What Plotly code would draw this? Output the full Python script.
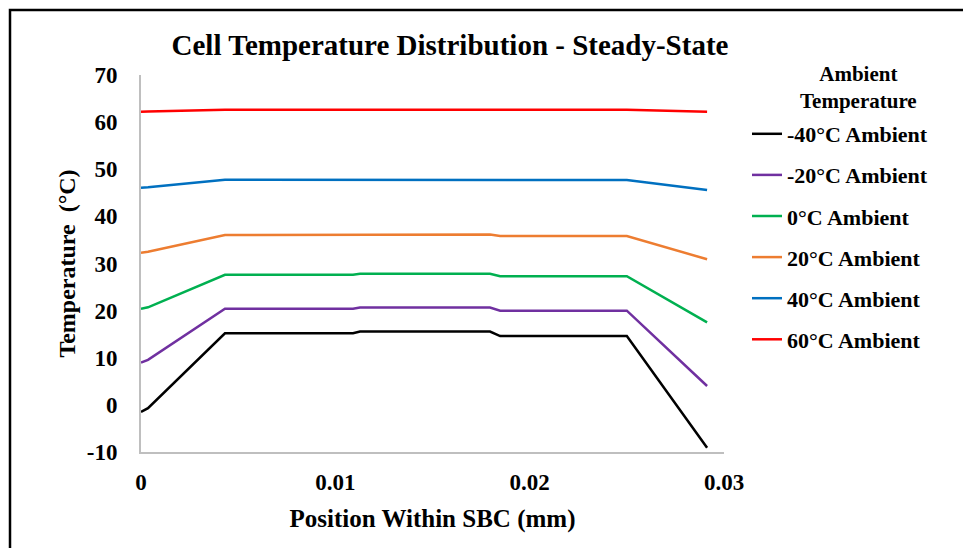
import plotly.graph_objects as go

position_mm = [0, 0.00036, 0.00432, 0.01091, 0.01127, 0.01796, 0.01848, 0.0250, 0.02913]

series_names = ["-40°C Ambient", "-20°C Ambient", "0°C Ambient",
                "20°C Ambient", "40°C Ambient", "60°C Ambient"]

temp_m40 = [-1.5, -0.7, 15.2, 15.2, 15.55, 15.55, 14.6, 14.6, -9.1]
temp_m20 = [9.0, 9.55, 20.4, 20.4, 20.65, 20.65, 20.0, 20.0, 4.0]
temp_0 = [20.4, 20.7, 27.6, 27.6, 27.8, 27.8, 27.3, 27.3, 17.5]
temp_20 = [32.3, 32.5, 36.05, 36.05, 36.15, 36.15, 35.85, 35.85, 30.9]
temp_40 = [46.1, 46.2, 47.75, 47.75, 47.75, 47.75, 47.7, 47.7, 45.6]
temp_60 = [62.2, 62.25, 62.6, 62.6, 62.6, 62.6, 62.6, 62.6, 62.2]

colors = ["#000000", "#7030A0", "#00B050", "#ED7D31", "#0070C0", "#FF0000"]

x_ticks = [0, 0.01, 0.02, 0.03]
x_tick_labels = ["0", "0.01", "0.02", "0.03"]
y_ticks = [-10, 0, 10, 20, 30, 40, 50, 60, 70]
y_tick_labels = ["-10", "0", "10", "20", "30", "40", "50", "60", "70"]

FONT = "Liberation Serif, Times New Roman, serif"

fig = go.Figure()
for i, (name, ys) in enumerate(zip(series_names,
                                   [temp_m40, temp_m20, temp_0, temp_20, temp_40, temp_60])):
    fig.add_trace(go.Scatter(
        x=position_mm, y=ys, mode="lines", name=name,
        line=dict(color=colors[i], width=2.5),
        legendgroup=f"g{i}",
    ))

W, H = 963, 548
L, R, T, B = 141, 239, 75, 96
pw = W - L - R
ph = H - T - B

fig.update_layout(
    width=W, height=H,
    margin=dict(l=L, r=R, t=T, b=B, autoexpand=False),
    paper_bgcolor="white", plot_bgcolor="white",
    font=dict(family=FONT, color="black", size=22, weight="bold"),
    title=dict(text="Cell Temperature Distribution - Steady-State",
               x=450 / W, xanchor="center", y=1 - 45 / H, yanchor="middle",
               font=dict(size=29, family=FONT, weight="bold", color="black")),
    xaxis=dict(range=[0, 0.03], tickvals=x_ticks, ticktext=x_tick_labels,
               showgrid=False, zeroline=False, showline=True, linecolor="#BFBFBF",
               linewidth=2, ticks="", ticklabelstandoff=8,
               tickfont=dict(size=23, family=FONT, weight="bold"),
               title=dict(text="Position Within SBC (mm)", standoff=16,
                          font=dict(size=25, family=FONT, weight="bold"))),
    yaxis=dict(range=[-10, 70], tickvals=y_ticks, ticktext=y_tick_labels,
               showgrid=False, zeroline=False,
               showline=True, linecolor="#BFBFBF", linewidth=2, ticks="",
               ticklabelstandoff=17,
               tickfont=dict(size=23, family=FONT, weight="bold"),
               title=dict(text="Temperature  (°C)", standoff=4,
                          font=dict(size=24, family=FONT, weight="bold"))),
    legend=dict(
        x=(747 - L) / pw, xanchor="left", y=1 - (113 - T) / ph, yanchor="top",
        bgcolor="rgba(0,0,0,0)", tracegroupgap=9.5,
        font=dict(size=22, family=FONT, weight="bold"),
        itemwidth=30, maxheight=600,
    ),
    showlegend=True,
)

fig.add_annotation(text="Ambient<br>Temperature", xref="paper", yref="paper",
                   x=(858 - L) / pw, y=1 - (88 - T) / ph, xanchor="center",
                   yanchor="middle", showarrow=False, align="center",
                   font=dict(size=21, family=FONT, weight="bold", color="black"))

fig.add_shape(type="rect", xref="paper", yref="paper",
              x0=(10 - L) / pw, x1=(990 - L) / pw,
              y0=1 - (580 - T) / ph, y1=1 - (10 - T) / ph,
              line=dict(color="black", width=2.5), fillcolor="rgba(0,0,0,0)",
              layer="below")

fig.write_html("out.html", config={"displayModeBar": False},
               post_script="document.body.style.margin='0';document.body.style.overflow='hidden';")
